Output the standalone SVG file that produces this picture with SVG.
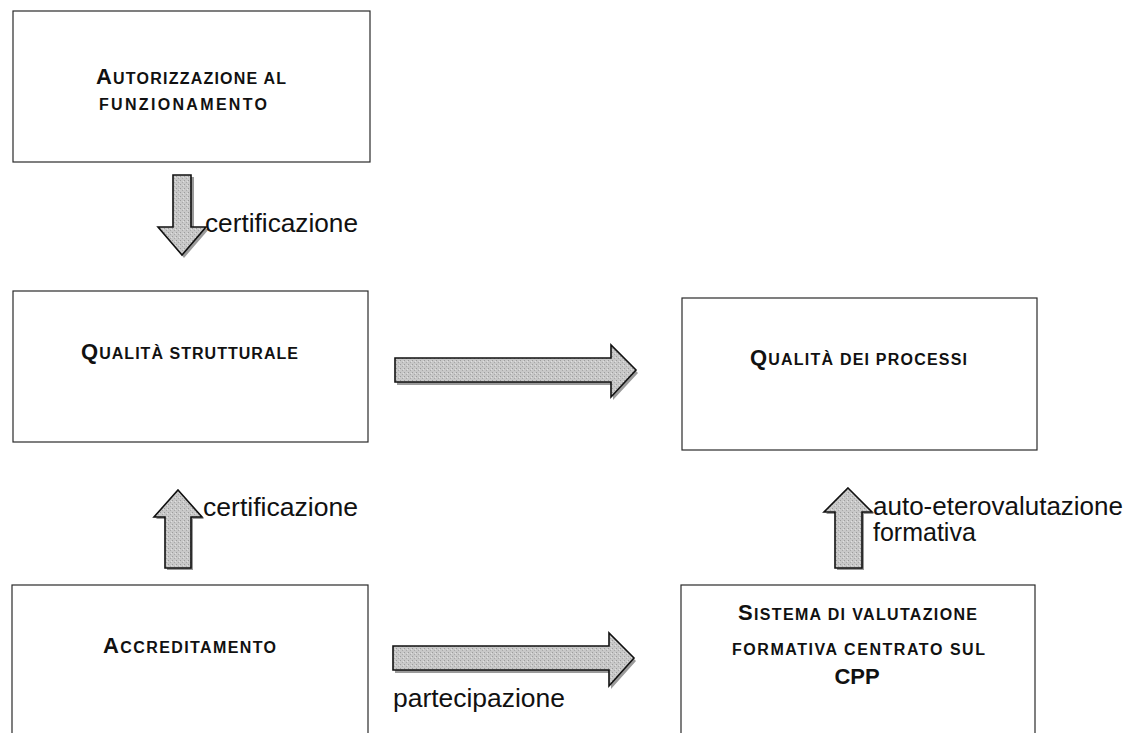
<svg xmlns="http://www.w3.org/2000/svg" width="1140" height="733" viewBox="0 0 1140 733">
<style>
.box{fill:#fff;stroke:#2a2a2a;stroke-width:1.2}
.bt{font-family:"Liberation Sans",Arial,sans-serif;font-weight:bold;fill:#111}
.cap{font-size:22px}
.sc{font-size:16px}
.lbl{font-family:"Liberation Sans",Arial,sans-serif;font-size:25px;fill:#111}
.arr{stroke:#111;stroke-width:1.6;stroke-linejoin:miter}
.shd{fill:#9a9a9a;stroke:none}
</style>
<defs>
<pattern id="dots" width="4" height="4" patternUnits="userSpaceOnUse">
<rect width="4" height="4" fill="#c8c8c8"/>
<rect x="0" y="0" width="1" height="1" fill="#9c9c9c"/>
<rect x="2" y="2" width="1" height="1" fill="#a8a8a8"/>
<rect x="3" y="1" width="1" height="1" fill="#e0e0e0"/>
</pattern>
</defs>
<rect width="1140" height="733" fill="#fff"/>

<g id="node-autorizzazione">
<rect class="box" x="13" y="11" width="357" height="151"/>
<text class="bt" x="96" y="84" textLength="190" lengthAdjust="spacing"><tspan class="cap">A</tspan><tspan class="sc">UTORIZZAZIONE AL</tspan></text>
<text class="bt sc" x="99" y="110" textLength="168" lengthAdjust="spacing">FUNZIONAMENTO</text>
</g>

<g id="node-qualita-strutturale">
<rect class="box" x="13" y="291" width="355" height="151"/>
<text class="bt" x="81" y="359" textLength="217" lengthAdjust="spacing"><tspan class="cap">Q</tspan><tspan class="sc">UALITÀ STRUTTURALE</tspan></text>
</g>

<g id="node-qualita-processi">
<rect class="box" x="682" y="298" width="355" height="152"/>
<text class="bt" x="750" y="365" textLength="217" lengthAdjust="spacing"><tspan class="cap">Q</tspan><tspan class="sc">UALITÀ DEI PROCESSI</tspan></text>
</g>

<g id="node-accreditamento">
<rect class="box" x="12" y="585" width="356" height="160"/>
<text class="bt" x="103" y="653" textLength="173" lengthAdjust="spacing"><tspan class="cap">A</tspan><tspan class="sc">CCREDITAMENTO</tspan></text>
</g>

<g id="node-sistema">
<rect class="box" x="681" y="585" width="354" height="160"/>
<text class="bt" x="738" y="620" textLength="239" lengthAdjust="spacing"><tspan class="cap">S</tspan><tspan class="sc">ISTEMA DI VALUTAZIONE</tspan></text>
<text class="bt sc" x="732" y="655" textLength="253" lengthAdjust="spacing">FORMATIVA CENTRATO SUL</text>
<text class="bt" x="857" y="684" text-anchor="middle" style="font-size:22px">CPP</text>
</g>

<g id="connectors">
<path class="shd" d="M176,177 H194 V229 H209 L184,258 L160,229 H176 Z"/>
<path class="arr" style="fill:url(#dots)" d="M173,175 H191 V227 H206 L182,255 L158,227 H173 Z"/>
<text class="lbl" x="205" y="232" textLength="153" lengthAdjust="spacingAndGlyphs">certificazione</text>

<path class="shd" d="M397,361 H613 V348 L638,373 L613,400 V385 H397 Z"/>
<path class="arr" style="fill:url(#dots)" d="M395,358 H611 V345 L636,370 L611,397 V382 H395 Z"/>

<path class="shd" d="M180,492 L204,519 H193 V570 H167 V519 H156 Z"/>
<path class="arr" style="fill:url(#dots)" d="M178,490 L202,517 H191 V568 H165 V517 H154 Z"/>
<text class="lbl" x="203" y="516" textLength="155" lengthAdjust="spacingAndGlyphs">certificazione</text>

<path class="shd" d="M850,490 L874,514 H864 V570 H837 V514 H826 Z"/>
<path class="arr" style="fill:url(#dots)" d="M848,488 L872,512 H862 V568 H835 V512 H824 Z"/>
<text class="lbl" x="873" y="515" textLength="250" lengthAdjust="spacingAndGlyphs">auto-eterovalutazione</text>
<text class="lbl" x="873" y="541">formativa</text>

<path class="shd" d="M395,649 H611 V636 L636,661 L611,689 V673 H395 Z"/>
<path class="arr" style="fill:url(#dots)" d="M393,646 H609 V633 L634,658 L609,686 V670 H393 Z"/>
<text class="lbl" x="393" y="707" textLength="172" lengthAdjust="spacingAndGlyphs">partecipazione</text>
</g>
</svg>
